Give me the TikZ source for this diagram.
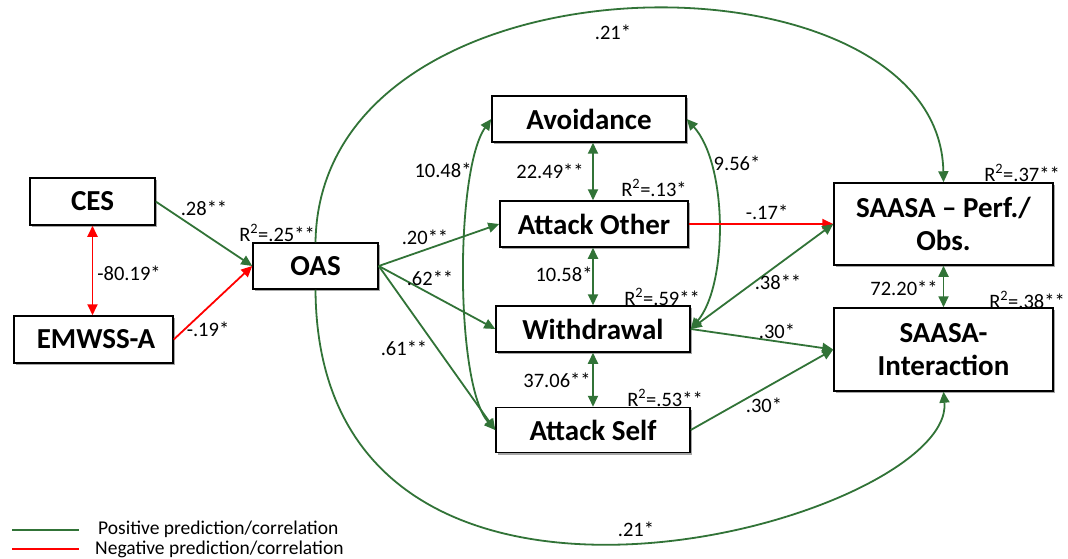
\documentclass[tikz,border=0pt]{standalone}
\usepackage{fontspec}
\setmainfont{Carlito}
\usetikzlibrary{arrows.meta,shadows,calc}
\definecolor{pgreen}{RGB}{49,115,55}
\definecolor{pred}{RGB}{255,0,0}
\begin{document}
\begin{tikzpicture}[x=1pt,y=-1pt,
  box/.style={draw=black, line width=1.5pt, fill=white, font=\fontsize{29}{33}\selectfont\bfseries, align=center, inner sep=0pt,
    drop shadow={shadow xshift=2pt,shadow yshift=-2pt,fill=black,opacity=0.35}},
  lbl/.style={font=\fontsize{20.5}{23}\selectfont, inner sep=0pt},
  leg/.style={font=\fontsize{19.5}{22}\selectfont, inner sep=0pt, anchor=west},
  gplus/.style={draw=pgreen, line width=1.8pt, -{Triangle[length=11pt,width=10pt]}},
  rminus/.style={draw=pred, line width=1.8pt, -{Triangle[length=11pt,width=10pt]}},
  gboth/.style={draw=pgreen, line width=1.8pt, {Triangle[length=11pt,width=10pt]}-{Triangle[length=11pt,width=10pt]}},
  rboth/.style={draw=pred, line width=1.8pt, {Triangle[length=11pt,width=10pt]}-{Triangle[length=11pt,width=10pt]}},
]
\useasboundingbox (0,0) rectangle (1068,559);
\fill[white] (0,0) rectangle (1068,559);

% boxes
\node[box, minimum width=125pt, minimum height=47pt] (ces) at (92.5,201.5) {CES};
\node[box, minimum width=159pt, minimum height=47pt] (emw) at (93.5,339.5) {\hspace*{5pt}EMWSS-A};
\node[box, minimum width=125pt, minimum height=46pt] (oas) at (315.5,266) {OAS};
\node[box, minimum width=194pt, minimum height=46pt] (avoid) at (589,119) {Avoidance};
\node[box, minimum width=188pt, minimum height=46pt] (atto) at (594,224) {Attack Other};
\node[box, minimum width=194pt, minimum height=46pt] (withd) at (593,329) {Withdrawal};
\node[box, minimum width=194pt, minimum height=45pt] (atts) at (593,430) {Attack Self};
\node[box, minimum width=219pt, minimum height=82pt] (sap) at (943.5,224) {SAASA – Perf./\\Obs.};
\node[box, minimum width=219pt, minimum height=83pt] (sai) at (943.5,349.5) {SAASA-\\Interaction};

% edges
\draw[gplus] (ces.east) -- (oas.west);
\draw[rminus] (emw.east) -- (oas.west);
\draw[rboth] (ces.south) -- (emw.north -| ces.south);
\draw[gplus] (oas.east) -- (atto.west);
\draw[gplus] (oas.east) -- (withd.west);
\draw[gplus] (oas.east) -- (atts.west);
\draw[gboth] (avoid.south -| withd.north) -- (atto.north -| withd.north);
\draw[gboth] (atto.south -| withd.north) -- (withd.north);
\draw[gboth] (withd.south) -- (atts.north -| withd.south);
\draw[gboth] (avoid.west) .. controls (455,170) and (455,385) .. (atts.west);
\draw[gboth] (avoid.east) .. controls (728,165) and (728,285) .. (withd.east);
\draw[rminus] (atto.east) -- (sap.west);
\draw[gboth] (withd.east) -- (sap.west);
\draw[gplus] (withd.east) -- (sai.west);
\draw[gplus] (atts.east) -- (sai.west);
\draw[gboth] (sap.south) -- (sai.north);
\draw[gplus] (oas.north) .. controls (320,-58) and (940,-58) .. (sap.north);
\draw[gplus] (oas.south) .. controls (318,700) and (955,520) .. (sai.south);

% labels
\node[lbl] (l1) at (204,208) {.28**};
\node[lbl] (l2) at (129,273) {-80.19*};
\node[lbl] (l3) at (208,329) {-.19*};
\node[lbl] (l4) at (277,233) {R\textsuperscript{2}=.25**};
\node[lbl] (l5) at (425,237) {.20**};
\node[lbl] (l6) at (443,170) {10.48*};
\node[lbl] (l7) at (550,171) {22.49**};
\node[lbl] (l8) at (654,188) {R\textsuperscript{2}=.13*};
\node[lbl] (l9) at (430,278) {.62**};
\node[lbl] (l10) at (564,274) {10.58*};
\node[lbl] (l11) at (662,297) {R\textsuperscript{2}=.59**};
\node[lbl] (l12) at (404,348) {.61**};
\node[lbl] (l13) at (557,380) {37.06**};
\node[lbl] (l14) at (665,398) {R\textsuperscript{2}=.53**};
\node[lbl] (l15) at (737,163) {9.56*};
\node[lbl] (l16) at (767,212) {-.17*};
\node[lbl] (l17) at (778,282) {.38**};
\node[lbl] (l18) at (777,331) {.30*};
\node[lbl] (l19) at (764,405) {.30*};
\node[lbl] (l20) at (904,288) {72.20**};
\node[lbl] (l21) at (1022,173) {R\textsuperscript{2}=.37**};
\node[lbl] (l22) at (1027,300) {R\textsuperscript{2}=.38**};
\node[lbl] (l23) at (613,32) {.21*};
\node[lbl] (l24) at (636,529) {.21*};

% legend
\coordinate (g1) at (12,530);
\coordinate (g2) at (79,530);
\coordinate (r1) at (12,549);
\coordinate (r2) at (79,549);
\draw[pgreen, line width=1.5pt] (g1) -- (g2);
\draw[pred, line width=1.5pt] (r1) -- (r2);
\node[leg] (lp) at (98,529.5) {Positive prediction/correlation};
\node[leg] (ln) at (95,549.5) {Negative prediction/correlation};
\end{tikzpicture}
\end{document}
